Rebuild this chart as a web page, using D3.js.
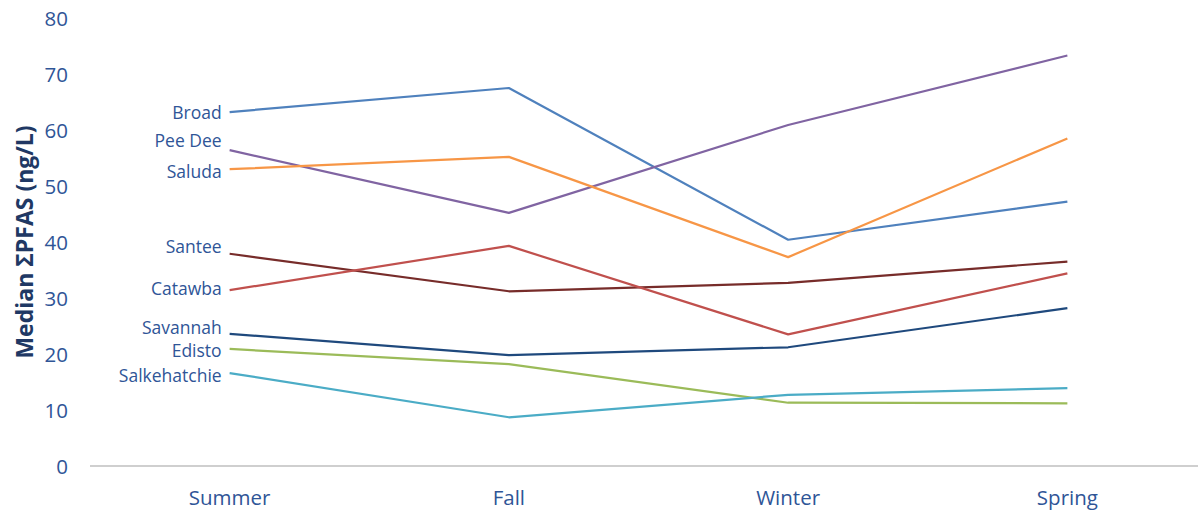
<!DOCTYPE html>
<html>
<head>
<meta charset="utf-8">
<script src="https://cdn.jsdelivr.net/npm/d3@7"></script>
<style>
  html, body { margin: 0; padding: 0; background: #fff; }
  svg { display: block; }
</style>
</head>
<body>
<svg id="chart" width="1198" height="510"></svg>
<script>
// Seasons on the x axis
const seasons = ["Summer", "Fall", "Winter", "Spring"];

// River basins, in label order
const rivers = ["Broad", "Pee Dee", "Saluda", "Santee", "Catawba", "Savannah", "Edisto", "Salkehatchie"];

// Median ΣPFAS (ng/L) per season for each basin
const broad        = [63.2, 67.5, 40.4, 47.2];
const peeDee       = [56.4, 45.2, 60.9, 73.3];
const saluda       = [53.0, 55.2, 37.3, 58.5];
const santee       = [37.9, 31.2, 32.7, 36.5];
const catawba      = [31.4, 39.3, 23.5, 34.4];
const savannah     = [23.6, 19.8, 21.2, 28.2];
const edisto       = [20.9, 18.2, 11.3, 11.2];
const salkehatchie = [16.6, 8.7, 12.7, 13.9];

// Y axis ticks
const yTicks = [0, 10, 20, 30, 40, 50, 60, 70, 80];

const seriesValues = [broad, peeDee, saluda, santee, catawba, savannah, edisto, salkehatchie];
const colors = ["#4F81BD", "#8064A2", "#F79646", "#772C2A", "#C0504D", "#1F497D", "#9BBB59", "#4BACC6"];
// Label nudges (ng/L) so the names don't collide at the left edge
const labelShift = [0.1, 1.8, -0.3, 1.3, 0.4, 1.2, -0.2, -0.35];

const svg = d3.select("#chart");
const textColor = "#2F5597";

const x = d3.scaleBand().domain(seasons).range([90, 1207]);
const y = d3.scaleLinear().domain([0, 80]).range([466, 18]);
const cx = s => x(s) + x.bandwidth() / 2;

// Category axis: plain baseline plus labels
svg.append("line")
  .attr("x1", 90).attr("x2", 1198)
  .attr("y1", y(0)).attr("y2", y(0))
  .attr("stroke", "#BFBFBF").attr("stroke-width", 1.3);

svg.append("g").selectAll("text").data(seasons).join("text")
  .attr("x", d => cx(d)).attr("y", 497)
  .attr("text-anchor", "middle").attr("dominant-baseline", "central")
  .attr("font-family", "Open Sans, sans-serif").attr("font-size", 20.5)
  .attr("fill", textColor)
  .text(d => d);

// Value axis labels (no line)
svg.append("g").selectAll("text").data(yTicks).join("text")
  .attr("x", 68).attr("y", d => y(d))
  .attr("text-anchor", "end").attr("dominant-baseline", "central")
  .attr("font-family", "Open Sans, sans-serif").attr("font-size", 20.5)
  .attr("fill", textColor)
  .text(d => d);

// Axis title
svg.append("text")
  .attr("transform", `translate(24,242) rotate(-90)`)
  .attr("text-anchor", "middle").attr("dominant-baseline", "central")
  .attr("font-family", "Open Sans, sans-serif").attr("font-weight", "bold")
  .attr("font-size", 23).attr("fill", "#203864")
  .text("Median ΣPFAS (ng/L)");

// Series lines
const line = d3.line()
  .x((d, i) => cx(seasons[i]))
  .y(d => y(d));

svg.append("g").selectAll("path").data(seriesValues).join("path")
  .attr("d", d => line(d))
  .attr("fill", "none")
  .attr("stroke", (d, i) => colors[i])
  .attr("stroke-width", 2.2)
  .attr("stroke-linejoin", "round");

// Basin names at the start of each line
svg.append("g").selectAll("text").data(rivers).join("text")
  .attr("x", cx(seasons[0]) - 8)
  .attr("y", (d, i) => y(seriesValues[i][0] + labelShift[i]))
  .attr("text-anchor", "end").attr("dominant-baseline", "central")
  .attr("font-family", "Open Sans, sans-serif").attr("font-size", 17.5)
  .attr("fill", textColor)
  .text(d => d);
</script>
</body>
</html>
